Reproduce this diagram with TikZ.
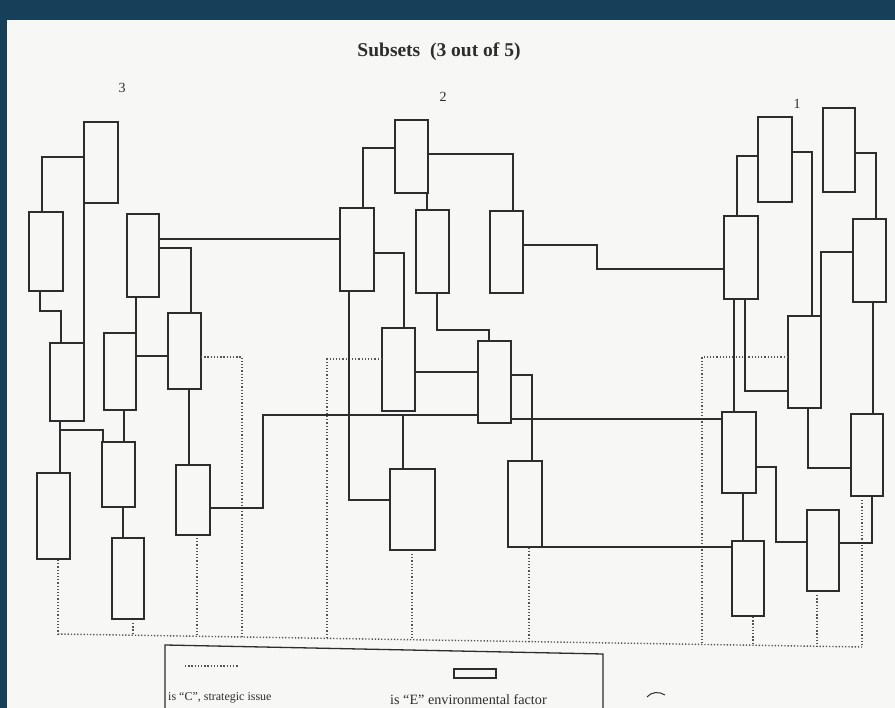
\documentclass[tikz,border=0pt]{standalone}
\usepackage{fontspec}
\setmainfont{Liberation Serif}
\usetikzlibrary{calc}
\definecolor{framec}{RGB}{22,63,90}
\definecolor{bg}{RGB}{247,247,245}
\definecolor{ink}{RGB}{45,45,45}
\definecolor{dotink}{RGB}{85,85,85}
\begin{document}
\begin{tikzpicture}[x=1pt,y=-1pt,
  efactor/.style={draw=ink,line width=1.5pt,fill=bg,inner sep=0pt,outer sep=0pt},
  link/.style={draw=ink,line width=1.3pt},
  cissue/.style={draw=dotink,line width=1.4pt,dash pattern=on 1.3pt off 1.9pt},
  lbl/.style={font=\fontsize{14}{16}\selectfont,inner sep=1pt,text=ink}]
\useasboundingbox (0,0) rectangle (895,708);
\fill[bg] (0,0) rectangle (895,708);
\fill[framec] (0,0) rectangle (895,20);
\fill[framec] (0,0) rectangle (7,708);

% title and subset numbers
\node[font=\bfseries\fontsize{19.5}{22}\selectfont,text=ink] (title) at (439,52) {Subsets\ \ (3 out of 5)};
\node[lbl] (n3) at (122,88) {3};
\node[lbl] (n2) at (443,97) {2};
\node[lbl] (n1) at (797,104) {1};

% ---- dotted "C" line end points
\coordinate (b1) at (58,634);
\coordinate (b2) at (133,635.2);
\coordinate (b3) at (197,636.2);
\coordinate (b4) at (242,637);
\coordinate (b5) at (327,638.3);
\coordinate (b6) at (412,639.7);
\coordinate (b7) at (529,641.6);
\coordinate (b8) at (702,644.4);
\coordinate (b9) at (753,645.2);
\coordinate (b10) at (817,646.3);
\coordinate (b11) at (862,647);
\coordinate (k5) at (242,357);
\coordinate (k6) at (327,359);
\coordinate (k7) at (702,357);

% ---- boxes: subset 3
\node[efactor,minimum width=34pt,minimum height=81pt] (A1) at (101,162.5) {};
\node[efactor,minimum width=34pt,minimum height=79pt] (A2) at (46,251.5) {};
\node[efactor,minimum width=32pt,minimum height=83pt] (A3) at (143,255.5) {};
\node[efactor,minimum width=34pt,minimum height=78pt] (A4) at (67,382) {};
\node[efactor,minimum width=32pt,minimum height=77pt] (A5) at (120,371.5) {};
\node[efactor,minimum width=33pt,minimum height=76pt] (A6) at (184.5,351) {};
\node[efactor,minimum width=33pt,minimum height=86pt] (A7) at (53.5,516) {};
\node[efactor,minimum width=33pt,minimum height=65pt] (A8) at (118.5,474.5) {};
\node[efactor,minimum width=32pt,minimum height=81pt] (A9) at (128,578.5) {};
\node[efactor,minimum width=34pt,minimum height=70pt] (A10) at (193,500) {};
% ---- boxes: subset 2
\node[efactor,minimum width=33pt,minimum height=73pt] (B1) at (411.5,156.5) {};
\node[efactor,minimum width=34pt,minimum height=83pt] (B2) at (357,249.5) {};
\node[efactor,minimum width=33pt,minimum height=83pt] (B3) at (432.5,251.5) {};
\node[efactor,minimum width=33pt,minimum height=82pt] (B4) at (506.5,252) {};
\node[efactor,minimum width=33pt,minimum height=83pt] (B5) at (398.5,369.5) {};
\node[efactor,minimum width=33pt,minimum height=82pt] (B6) at (494.5,382) {};
\node[efactor,minimum width=45pt,minimum height=81pt] (B7) at (412.5,509.5) {};
\node[efactor,minimum width=34pt,minimum height=86pt] (B8) at (525,504) {};
% ---- boxes: subset 1
\node[efactor,minimum width=34pt,minimum height=85pt] (C1) at (775,159.5) {};
\node[efactor,minimum width=34pt,minimum height=83pt] (C2) at (741,257.5) {};
\node[efactor,minimum width=32pt,minimum height=84pt] (C3) at (839,150) {};
\node[efactor,minimum width=33pt,minimum height=83pt] (C4) at (869.5,260.5) {};
\node[efactor,minimum width=33pt,minimum height=92pt] (C5) at (804.5,362) {};
\node[efactor,minimum width=34pt,minimum height=81pt] (C6) at (739,452.5) {};
\node[efactor,minimum width=32pt,minimum height=82pt] (C7) at (867,455) {};
\node[efactor,minimum width=32pt,minimum height=75pt] (C8) at (748,578.5) {};
\node[efactor,minimum width=32pt,minimum height=81pt] (C9) at (823,550.5) {};

% ---- dotted connectors
\draw[cissue] (b1) -- (b11);
\draw[cissue] ([yshift=-1pt]A7.south -| b1) -- (b1);
\draw[cissue] ([yshift=-4pt]A9.south -| b2) -- (b2);
\draw[cissue] ([yshift=-3pt]A10.south -| b3) -- (b3);
\draw[cissue] (A6.east |- k5) -- (k5) -- (b4);
\draw[cissue] (B5.west |- k6) -- (k6) -- (b5);
\draw[cissue] ([yshift=-4pt]B7.south -| b6) -- (b6);
\draw[cissue] ([yshift=-1pt]B8.south -| b7) -- (b7);
\draw[cissue] (C5.west |- k7) -- (k7) -- (b8);
\draw[cissue] ([yshift=-1pt]C8.south -| b9) -- (b9);
\draw[cissue] ([yshift=-4pt]C9.south -| b10) -- (b10);
\draw[cissue] ([yshift=-4pt]C7.south -| b11) -- (b11);

% ---- solid connectors: subset 3
\draw[link] (A1.west |- 0,157) -| ([xshift=-4pt]A2.north);
\draw[link] (A1.south west) -- (A4.north east);
\draw[link] ([xshift=-6pt]A2.south) -- ++(0,20) -| ([xshift=-6pt]A4.north);
\draw[link] (A3.east |- 0,239) -- (B2.west |- 0,239);
\draw[link] (A3.east |- 0,248) -| ([xshift=6.5pt]A6.north);
\draw[link] (A3.south -| A5.north east) -- (A5.north east);
\draw[link] (A5.east |- 0,356) -- (A6.west |- 0,356);
\draw[link] ([xshift=-7pt]A4.south) -- ([xshift=-7pt]A4.south |- A7.north);
\draw[link] ([xshift=-7pt]A4.south |- 0,430) -| ([xshift=-15.5pt]A8.north);
\draw[link] ([xshift=4pt]A5.south) -- ([xshift=4pt]A5.south |- A8.north);
\draw[link] ([xshift=4.5pt]A6.south) -- ([xshift=4.5pt]A6.south |- A10.north);
\draw[link] ([xshift=4.5pt]A8.south) -- ([xshift=4.5pt]A8.south |- A9.north);
\coordinate (k1) at (263,415);
\draw[link] (A10.east |- 0,508) -| (k1) -- (B6.west |- k1);
\draw[link] (B6.east |- 0,419) -- (C6.west |- 0,419);
\draw[link] ([xshift=-9.5pt]B7.north |- k1) -- ([xshift=-9.5pt]B7.north);

% ---- subset 2
\draw[link] (B1.west |- 0,148) -| ([xshift=6pt]B2.north);
\draw[link] (B1.east |- 0,154) -| ([xshift=6.5pt]B4.north);
\draw[link] ([xshift=-5.5pt]B3.north |- B1.south) -- ([xshift=-5.5pt]B3.north);
\draw[link] (B2.east |- 0,253) -| ([xshift=5.5pt]B5.north);
\draw[link] ([xshift=-8pt]B2.south) |- (B7.west |- 0,500);
\draw[link] ([xshift=4.5pt]B3.south) -- ++(0,37) -| ([xshift=-5.5pt]B6.north);
\coordinate (k2) at (597,257);
\draw[link] (B4.east |- 0,245) -| (k2) |- (C2.west |- 0,269);
\draw[link] (B5.east |- 0,372) -- (B6.west |- 0,372);
\draw[link] (B6.east |- 0,375) -| ([xshift=7pt]B8.north);
\draw[link] (B8.south east) -- (C8.west |- B8.south east);

% ---- subset 1
\draw[link] (C1.west |- 0,156) -| ([xshift=-4pt]C2.north);
\draw[link] (C1.east |- 0,152) -| ([xshift=7.5pt]C5.north);
\draw[link] (C3.east |- 0,153) -| ([xshift=6.5pt]C4.north);
\draw[link] (C4.west |- 0,252) -| (C5.north east);
\draw[link] ([xshift=-7pt]C2.south) -- ([xshift=-7pt]C2.south |- C6.north);
\draw[link] ([xshift=4pt]C2.south) |- (C5.west |- 0,391);
\draw[link] ([xshift=3.5pt]C4.south) -- ([xshift=3.5pt]C4.south |- C7.north);
\draw[link] ([xshift=3.5pt]C5.south) |- (C7.west |- 0,468);
\coordinate (k4) at (776,505);
\draw[link] (C6.east |- 0,467) -| (k4) |- (C9.west |- 0,542);
\draw[link] ([xshift=4pt]C6.south) -- ([xshift=4pt]C6.south |- C8.north);
\draw[link] (C9.east |- 0,543) -| ([xshift=5pt]C7.south);

% ---- legend
\draw[ink,line width=1.3pt] (165,708) -- (165,645) -- (603,654) -- (603,708);
\draw[cissue] (185,666) -- (239,666);
\draw[ink,line width=1.3pt] (454,669) rectangle (496,678);
\node[anchor=base west,inner sep=0pt,font=\fontsize{12}{14}\selectfont,text=ink] (legc) at (168,700) {is “C”, strategic issue};
\node[anchor=base west,inner sep=0pt,font=\fontsize{14.2}{16}\selectfont,text=ink] (lege) at (390,704) {is “E” environmental factor};
\draw[ink,line width=1pt] (647,697) .. controls (651,692) and (659,691) .. (665,695);
\end{tikzpicture}
\end{document}
